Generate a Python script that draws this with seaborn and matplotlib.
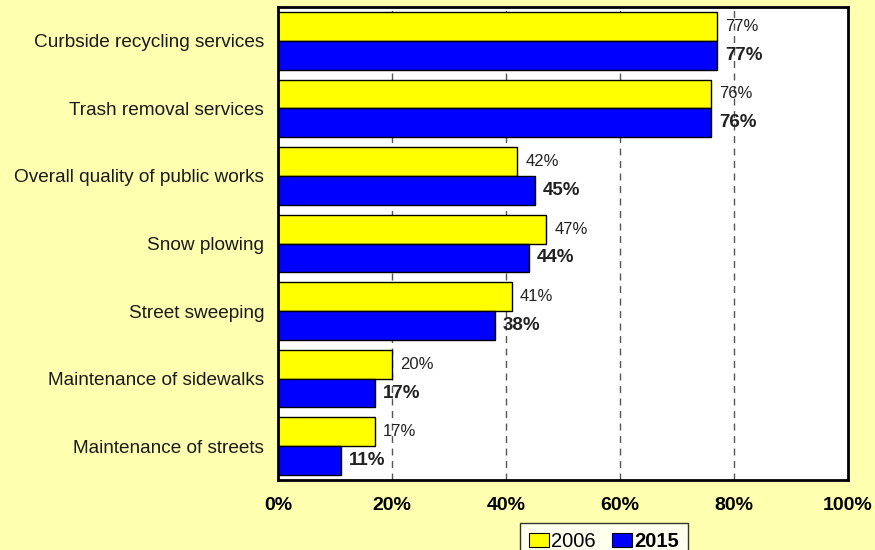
import matplotlib
matplotlib.use("Agg")
import matplotlib.pyplot as plt
import seaborn as sns
import pandas as pd
from matplotlib.patches import Patch

categories = [
    "Curbside recycling services",
    "Trash removal services",
    "Overall quality of public works",
    "Snow plowing",
    "Street sweeping",
    "Maintenance of sidewalks",
    "Maintenance of streets",
]
values_2006 = [77, 76, 42, 47, 41, 20, 17]
values_2015 = [77, 76, 45, 44, 38, 17, 11]
years = ["2006", "2015"]
x_ticks = [0, 20, 40, 60, 80, 100]
x_tick_labels = ["0%", "20%", "40%", "60%", "80%", "100%"]

df = pd.DataFrame({
    "category": categories * 2,
    "value": values_2006 + values_2015,
    "year": [years[0]] * len(categories) + [years[1]] * len(categories),
})

sns.set_theme(style="white")
plt.rcParams["font.family"] = ["Liberation Sans", "DejaVu Sans"]
plt.rcParams["text.color"] = "black"
plt.rcParams["xtick.color"] = "black"
plt.rcParams["ytick.color"] = "#1a1a1a"

bg = "#FFFFB0"
fig = plt.figure(figsize=(8.75, 5.5), dpi=100, facecolor=bg)
ax = fig.add_axes([278 / 875, 1 - 480 / 550, (848 - 278) / 875, (480 - 7) / 550])
ax.set_facecolor("white")

palette = {"2006": "#FFFF00", "2015": "#0000FF"}
sns.barplot(data=df, y="category", x="value", hue="year", orient="h",
            palette=palette, saturation=1, edgecolor="black", linewidth=1.0,
            width=0.85, ax=ax, legend=False, zorder=2)

# dashed reference lines behind the bars
for xv in x_ticks[1:-1]:
    ax.axvline(xv, color="#555555", linestyle=(0, (5, 4)), linewidth=1.0, zorder=1)

ax.set_xlim(0, 100)
ax.set_xticks(x_ticks)
ax.set_xticklabels(x_tick_labels, fontsize=14, fontweight="bold")
ax.tick_params(axis="x", length=0, pad=12)
ax.tick_params(axis="y", length=0, pad=10, labelsize=13.7)
ax.set_xlabel("")
ax.set_ylabel("")

for sp in ax.spines.values():
    sp.set_visible(True)
    sp.set_color("black")
    sp.set_linewidth(2)

# value labels
for container, yr in zip(ax.containers, years):
    bold = yr == "2015"
    labels = [f"{v:.0f}%" for v in container.datavalues]
    ax.bar_label(container, labels=labels, padding=6,
                 fontsize=13.5 if bold else 12,
                 fontweight="bold" if bold else "normal",
                 color="#222222")

handles = [Patch(facecolor=palette[y], edgecolor="black", linewidth=0.8) for y in years]
leg = fig.legend(handles, years, loc="upper center", bbox_to_anchor=(604 / 875, 1 - 523 / 550),
                 ncol=2, frameon=True, fancybox=False, fontsize=14.5,
                 handlelength=1.0, handleheight=0.7, handletextpad=0.1,
                 columnspacing=0.8, borderpad=0.45, borderaxespad=0)
leg.get_frame().set_edgecolor("black")
leg.get_frame().set_linewidth(1.0)
leg.get_texts()[1].set_fontweight("bold")

fig.savefig("out.png", dpi=100, facecolor=bg)
